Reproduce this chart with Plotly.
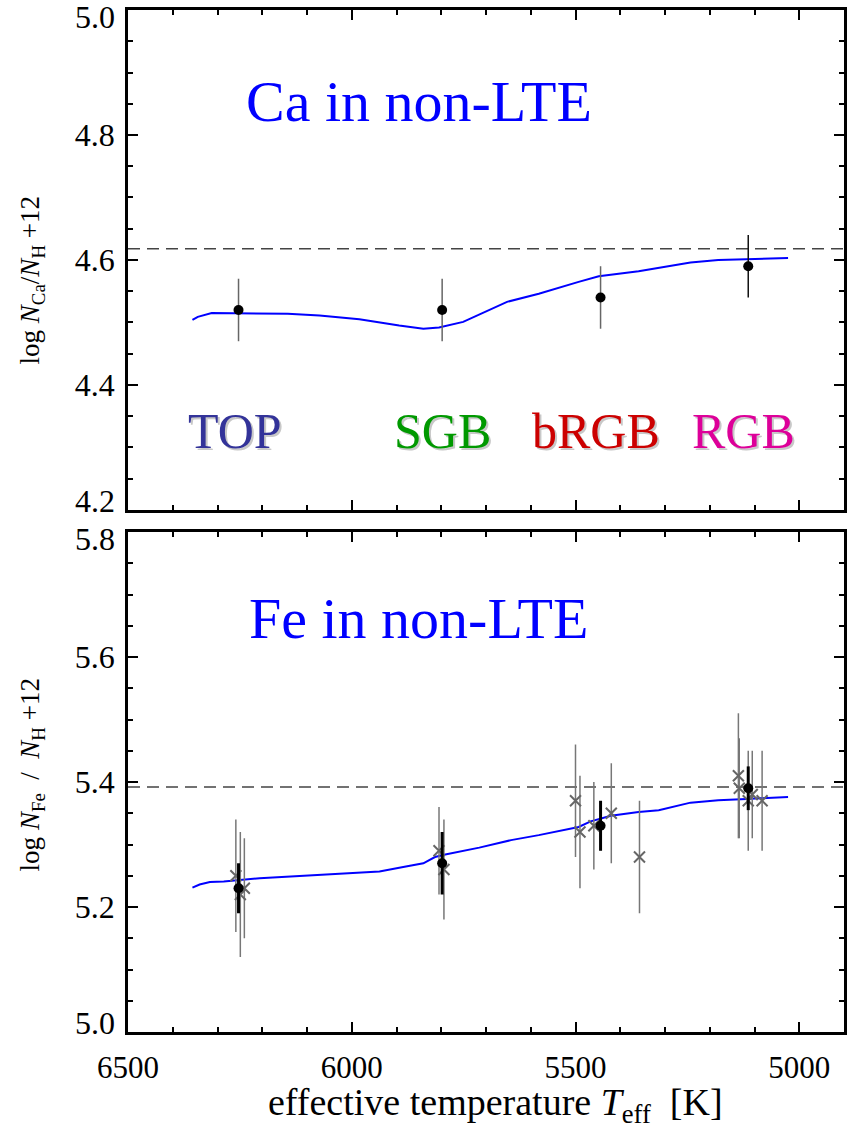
import plotly.graph_objects as go

# ---- Ca (top panel) ----
ca_teff = [6253, 5798, 5444, 5114]
ca_abund = [4.52, 4.52, 4.54, 4.59]
ca_err = [0.05, 0.05, 0.05, 0.05]
ca_ref = 4.618

ca_model_teff = [6356, 6344, 6313, 6250, 6143, 6072, 5983, 5894, 5840, 5805, 5751,
                 5653, 5582, 5493, 5448, 5359, 5243, 5181, 5118, 5025]
ca_model_abund = [4.504, 4.509, 4.515, 4.515, 4.514, 4.511, 4.505, 4.495, 4.490, 4.492,
                  4.501, 4.533, 4.546, 4.565, 4.574, 4.582, 4.596, 4.600, 4.601, 4.603]

# ---- Fe (bottom panel) ----
fe_teff = [6253, 5798, 5444, 5114]
fe_abund = [5.23, 5.27, 5.33, 5.39]
fe_err = [0.04, 0.05, 0.04, 0.035]
fe_ref = 5.392

star_teff = [6259, 6249, 6240, 5805, 5794, 5500, 5490, 5459, 5420, 5357,
             5136, 5134, 5105, 5114, 5083]
star_abund = [5.25, 5.22, 5.23, 5.29, 5.26, 5.37, 5.32, 5.33, 5.35, 5.28,
              5.41, 5.39, 5.38, 5.37, 5.37]
star_err = [0.09, 0.10, 0.08, 0.07, 0.08, 0.09, 0.09, 0.07, 0.08, 0.09,
            0.10, 0.08, 0.07, 0.08, 0.08]

fe_model_teff = [6356, 6340, 6317, 6286, 6206, 6117, 6027, 5938, 5885, 5840, 5814,
                 5791, 5715, 5644, 5582, 5493, 5466, 5421, 5359, 5314, 5243, 5181,
                 5118, 5025]
fe_model_abund = [5.231, 5.236, 5.240, 5.241, 5.246, 5.250, 5.253, 5.257, 5.264, 5.270,
                  5.280, 5.284, 5.295, 5.307, 5.315, 5.328, 5.337, 5.346, 5.352, 5.355,
                  5.367, 5.371, 5.373, 5.376]

phase_names = ["TOP", "SGB", "bRGB", "RGB"]
phase_teff = [6262, 5798, 5455, 5125]
phase_colors = ["#333399", "#009900", "#cc0000", "#dd0099"]
phase_level = 4.327

ca_ticks = [4.2, 4.4, 4.6, 4.8, 5.0]
fe_ticks = [5.0, 5.2, 5.4, 5.6, 5.8]

FONT = "Liberation Serif"
NB = "\u00a0"

fig = go.Figure()

# Ca model curve and reference line
fig.add_trace(go.Scatter(x=ca_model_teff, y=ca_model_abund, mode="lines",
                         line=dict(color="#0000ff", width=2), xaxis="x", yaxis="y"))
fig.add_trace(go.Scatter(x=[6500, 4900], y=[ca_ref, ca_ref], mode="lines",
                         line=dict(color="#444444", width=1.5, dash="12px,7px"),
                         xaxis="x", yaxis="y"))
# Ca means with error bars
ca_bar_colors = ["#666666", "#666666", "#666666", "#111111"]
for t, a, e, c in zip(ca_teff, ca_abund, ca_err, ca_bar_colors):
    fig.add_trace(go.Scatter(x=[t], y=[a], mode="markers",
                             marker=dict(color="black", size=10),
                             error_y=dict(type="data", array=[e], color=c,
                                          thickness=1.5, width=0),
                             xaxis="x", yaxis="y"))

# Fe model curve and reference line
fig.add_trace(go.Scatter(x=fe_model_teff, y=fe_model_abund, mode="lines",
                         line=dict(color="#0000ff", width=2), xaxis="x2", yaxis="y2"))
fig.add_trace(go.Scatter(x=[6500, 4900], y=[fe_ref, fe_ref], mode="lines",
                         line=dict(color="#444444", width=1.5, dash="12px,7px"),
                         xaxis="x2", yaxis="y2"))
# individual stars
fig.add_trace(go.Scatter(x=star_teff, y=star_abund, mode="markers",
                         marker=dict(symbol="x-thin", size=11, color="#666666",
                                     line=dict(color="#666666", width=2)),
                         error_y=dict(type="data", array=star_err, color="#777777",
                                      thickness=1.5, width=0),
                         xaxis="x2", yaxis="y2"))
# group means
fig.add_trace(go.Scatter(x=fe_teff, y=fe_abund, mode="markers",
                         marker=dict(color="black", size=10),
                         error_y=dict(type="data", array=fe_err, color="black",
                                      thickness=3, width=0),
                         xaxis="x2", yaxis="y2"))

axis_common = dict(showline=True, linecolor="black", linewidth=2.5, mirror="allticks",
                   ticks="inside", tickcolor="black", tickwidth=2, showgrid=False,
                   zeroline=False, tickfont=dict(family=FONT, size=32, color="black"))


def inner_labels(vals):
    # end labels are drawn separately, nudged inward from the frame corners
    return [""] + [f"{v:.1f}" for v in vals[1:-1]] + [""]


fig.update_layout(
    width=853, height=1129,
    margin=dict(l=128, r=6, t=10, b=97),
    plot_bgcolor="white", paper_bgcolor="white",
    showlegend=False,
    xaxis=dict(axis_common, domain=[0, 1], anchor="y", range=[6500, 4900],
               dtick=500, ticklen=10, showticklabels=False,
               minor=dict(dtick=100, ticklen=5, tickcolor="black", ticks="inside")),
    yaxis=dict(axis_common, domain=[0.5108, 1], anchor="x", range=[4.2, 5.0],
               tickvals=ca_ticks, ticktext=inner_labels(ca_ticks), ticklen=10,
               ticklabelstandoff=4,
               minor=dict(dtick=0.05, ticklen=5, tickcolor="black", ticks="inside")),
    xaxis2=dict(axis_common, domain=[0, 1], anchor="y2", range=[6500, 4900],
                dtick=500, ticklen=10, ticklabelstandoff=6,
                tickfont=dict(family=FONT, size=31, color="black"),
                minor=dict(dtick=100, ticklen=5, tickcolor="black", ticks="inside")),
    yaxis2=dict(axis_common, domain=[0, 0.4892], anchor="x2", range=[5.0, 5.8],
                tickvals=fe_ticks, ticktext=inner_labels(fe_ticks), ticklen=10,
                ticklabelstandoff=4,
                minor=dict(dtick=0.05, ticklen=5, tickcolor="black", ticks="inside")),
)

ann = []
# end tick labels of each panel
for yref, vals in (("y", ca_ticks), ("y2", fe_ticks)):
    for v, shift in ((vals[0], 9), (vals[-1], -7)):
        ann.append(dict(text=f"{v:.1f}", x=-0.016, y=v, xref="paper", yref=yref,
                        xanchor="right", yanchor="middle", yshift=shift, showarrow=False,
                        font=dict(family=FONT, size=32, color="black")))
# panel titles
ann.append(dict(text="Ca in non-LTE", x=5850, y=4.854, xref="x", yref="y",
                showarrow=False, font=dict(family=FONT, size=58, color="#0000ff")))
ann.append(dict(text="Fe in non-LTE", x=5850, y=5.661, xref="x2", yref="y2",
                showarrow=False, font=dict(family=FONT, size=58, color="#0000ff")))
# phase labels with soft drop shadow
for name, t, c in zip(phase_names, phase_teff, phase_colors):
    ann.append(dict(text=name, x=t, y=phase_level, xref="x", yref="y", showarrow=False,
                    xshift=2, yshift=-2,
                    font=dict(family=FONT, size=50, color="#c8c8c8")))
    ann.append(dict(text=name, x=t, y=phase_level, xref="x", yref="y", showarrow=False,
                    font=dict(family=FONT, size=50, color=c)))
# axis titles
ann.append(dict(text="log <i>N</i><sub>Ca</sub>/<i>N</i><sub>H</sub> +12",
                x=-0.1335, y=0.7358, xref="paper", yref="paper", textangle=-90,
                xanchor="center", yanchor="middle",
                showarrow=False, font=dict(family=FONT, size=27, color="black")))
ann.append(dict(text="log <i>N</i><sub>Fe</sub>" + NB * 2 + "/" + NB * 2 +
                "<i>N</i><sub>H</sub>" + NB + "+12",
                x=-0.1335, y=0.2515, xref="paper", yref="paper", textangle=-90,
                xanchor="center", yanchor="middle",
                showarrow=False, font=dict(family=FONT, size=27, color="black")))
ann.append(dict(text="effective temperature <i>T</i><sub>eff</sub>" + NB * 2 + "[K]",
                x=0.513, y=-0.0714, xref="paper", yref="paper",
                xanchor="center", yanchor="middle",
                showarrow=False, font=dict(family=FONT, size=38, color="black")))
fig.update_layout(annotations=ann)

fig.write_html("out.html")
